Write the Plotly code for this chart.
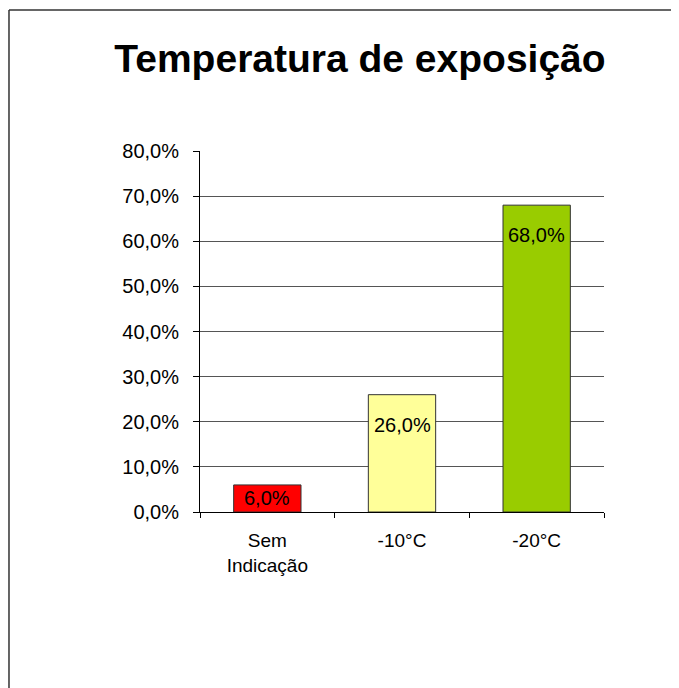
import plotly.graph_objects as go

categories = ["Sem<br>Indicação", "-10°C", "-20°C"]
values = [6.0, 26.0, 68.0]
colors = ["#FF0000", "#FFFF99", "#99CC00"]
tick_vals = [0, 10, 20, 30, 40, 50, 60, 70, 80]
tick_text = ["0,0%", "10,0%", "20,0%", "30,0%", "40,0%", "50,0%", "60,0%", "70,0%", "80,0%"]
labels = ["6,0%", "26,0%", "68,0%"]

FONT = "Liberation Sans, Arial, sans-serif"

fig = go.Figure()
fig.add_trace(go.Bar(
    x=categories, y=values,
    marker=dict(color=colors, line=dict(color="#333333", width=1)),
    width=0.5,
    hoverinfo="skip",
))

# data labels near the top inside each bar
for c, v, t in zip(categories, values, labels):
    ylab = max(v - 6.7, v / 2)
    fig.add_annotation(x=c, y=ylab, text=t, showarrow=False,
                       font=dict(family=FONT, size=20, color="#000000"),
                       xanchor="center", yanchor="middle")

# outer chart border (left and top edges visible)
BX = -0.4728
BY = 1.3906
fig.add_shape(type="line", xref="paper", yref="paper",
              x0=BX, x1=BX, y0=BY, y1=-2.0,
              line=dict(color="#333333", width=1.5), layer="below")
fig.add_shape(type="line", xref="paper", yref="paper",
              x0=BX, x1=3.0, y0=BY, y1=BY,
              line=dict(color="#333333", width=1.5), layer="below")

fig.update_layout(
    width=671, height=680,
    margin=dict(l=192, r=75, t=143, b=176),
    paper_bgcolor="white", plot_bgcolor="white",
    showlegend=False,
    font=dict(family=FONT, size=19, color="#000000"),
    title=dict(text="<b>Temperatura de exposição</b>",
               font=dict(family=FONT, size=39, color="#000000"),
               x=0.396, xref="paper", xanchor="center",
               y=1 - 50 / 680, yref="container", yanchor="middle"),
    xaxis=dict(
        type="category",
        range=[-0.5, 2.5],
        showline=True, linecolor="#000000", linewidth=1,
        ticks="outside", tickson="boundaries", ticklen=5, tickcolor="#000000",
        showgrid=False,
        tickfont=dict(family=FONT, size=19, color="#000000"),
        ticklabelstandoff=11,
    ),
    yaxis=dict(
        range=[0, 80],
        tickvals=tick_vals, ticktext=tick_text,
        showline=True, linecolor="#000000", linewidth=1,
        ticks="outside", ticklen=6, tickcolor="#000000",
        showgrid=True, gridcolor="#555555", gridwidth=1,
        zeroline=False,
        tickfont=dict(family=FONT, size=20, color="#000000"),
        ticklabelstandoff=10,
    ),
)

fig.write_html("out.html", config={"displayModeBar": False})
